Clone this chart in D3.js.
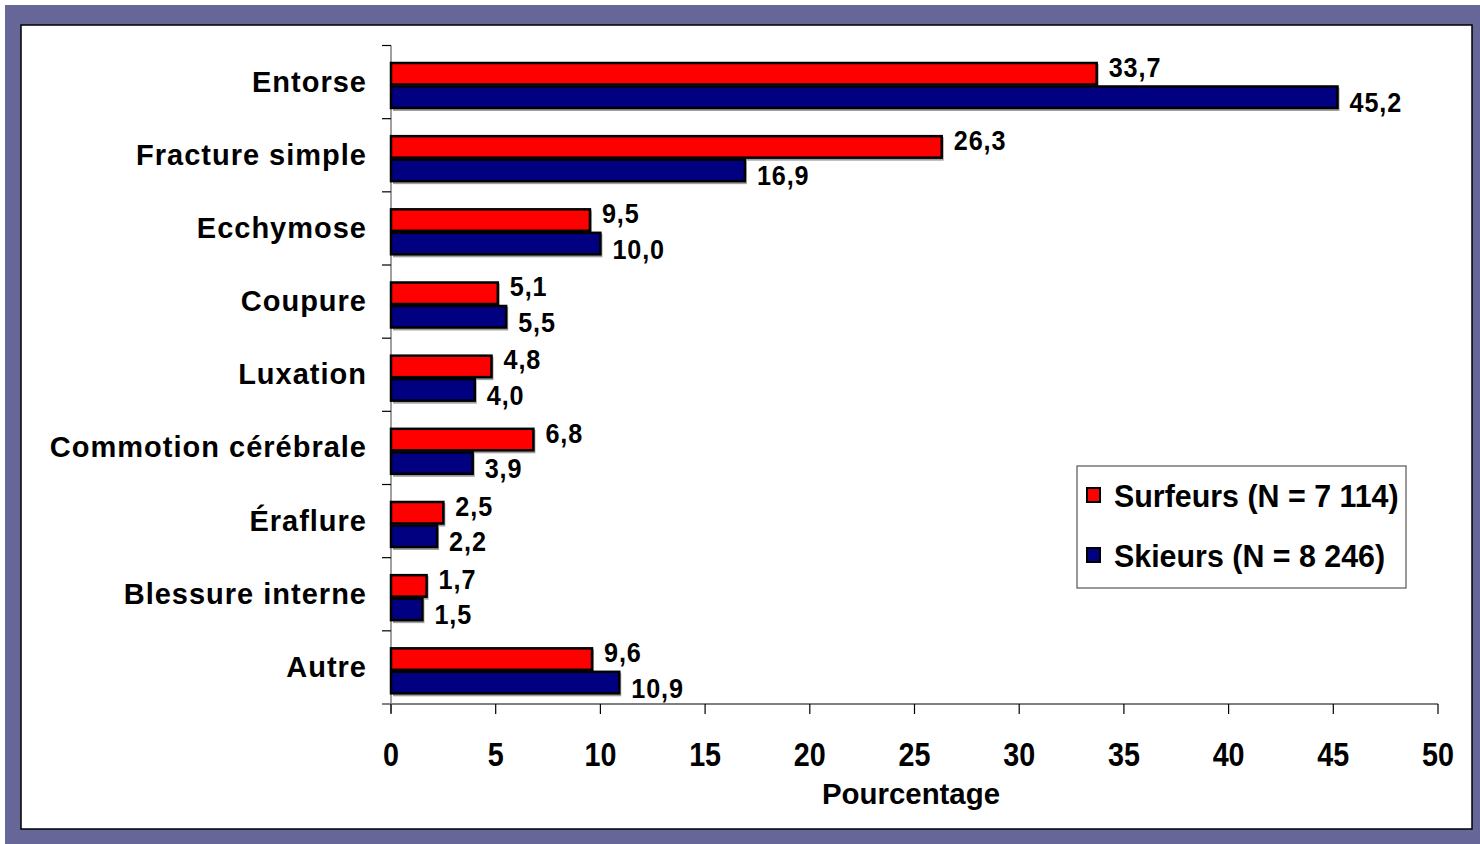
<!DOCTYPE html>
<html><head><meta charset="utf-8">
<script src="https://cdn.jsdelivr.net/npm/d3@7"></script>
<style>body{margin:0;background:#fff}svg{display:block}text{font-family:Arial,"Liberation Sans",Helvetica,sans-serif;font-weight:bold;fill:#000}</style>
</head><body>
<script>
const categories = ["Entorse","Fracture simple","Ecchymose","Coupure","Luxation","Commotion cérébrale","Éraflure","Blessure interne","Autre"];
const surfeurs = [33.7,26.3,9.5,5.1,4.8,6.8,2.5,1.7,9.6];
const skieurs  = [45.2,16.9,10.0,5.5,4.0,3.9,2.2,1.5,10.9];
const seriesNames = ["Surfeurs (N = 7 114)","Skieurs (N = 8 246)"];
const seriesColors = ["#FF0000","#000080"];
const xTicks = [0,5,10,15,20,25,30,35,40,45,50];
const xTitle = "Pourcentage";

const W=1480,H=844;
const svg=d3.select("body").append("svg").attr("width",W).attr("height",H);
// frame
svg.append("rect").attr("x",5).attr("y",5).attr("width",W-5).attr("height",H-5).attr("fill","#666699");
svg.append("rect").attr("x",21).attr("y",25).attr("width",1451).attr("height",804).attr("fill","#fff").attr("stroke","#000").attr("stroke-width",1.5);

const x=d3.scaleLinear().domain([0,50]).range([391,1438]);
const y=d3.scaleBand().domain(categories).range([45.5,704]).padding(0);
const inner=d3.scaleBand().domain([0,1]).range([0,y.bandwidth()]).paddingInner(0).paddingOuter(0.557).align(0.63);
const fmt=v=>d3.format(".1f")(v).replace(".",",");

function txt(g,px,py,s,size,sx,anchor){
  return g.append("text").attr("transform",`translate(${px},${py}) scale(${sx},1)`)
    .attr("text-anchor",anchor).attr("dy","0.36em").style("font-size",size+"px").text(s);
}

// y axis
const yBounds=categories.map(c=>y(c)).concat([y.range()[1]]);
svg.append("line").attr("x1",x(0)).attr("x2",x(0)).attr("y1",y.range()[0]).attr("y2",y.range()[1]+9).attr("stroke","#808080").attr("stroke-width",1.5);
svg.selectAll(".yt").data(yBounds).join("line").attr("x1",x(0)-9).attr("x2",x(0)).attr("y1",d=>d).attr("y2",d=>d).attr("stroke","#000").attr("stroke-width",1.2);

// bars
const data=[surfeurs,skieurs];
const g=svg.append("g");
data.forEach((vals,si)=>{
  g.selectAll(".sh"+si).data(categories).join("rect")
    .attr("x",x(0)+2).attr("y",(c)=>y(c)+inner(si)+2)
    .attr("width",(c,i)=>x(vals[i])-x(0)).attr("height",inner.bandwidth())
    .attr("fill","#a0a0a0");
});
data.forEach((vals,si)=>{
  g.selectAll(".b"+si).data(categories).join("rect")
    .attr("x",x(0)).attr("y",(c)=>y(c)+inner(si)+1)
    .attr("width",(c,i)=>x(vals[i])-x(0)).attr("height",inner.bandwidth()-2)
    .attr("fill",seriesColors[si]).attr("stroke","#000").attr("stroke-width",2.5);
});
// value labels
data.forEach((vals,si)=>{
  categories.forEach((c,i)=>{
    const cy=y(c)+inner(si)+inner.bandwidth()/2+(si===0?-7:5);
    txt(svg,x(vals[i])+12,cy,fmt(vals[i]),28,0.9,"start").style("letter-spacing","1px");
  });
});

// x axis
svg.append("line").attr("x1",x(0)-9).attr("x2",x(50)).attr("y1",704).attr("y2",704).attr("stroke","#808080").attr("stroke-width",2);
svg.selectAll(".xt").data(xTicks).join("line").attr("x1",d=>x(d)).attr("x2",d=>x(d)).attr("y1",704).attr("y2",714).attr("stroke","#000").attr("stroke-width",1.2);
xTicks.forEach(t=>txt(svg,x(t),754,String(t),33,0.87,"middle"));
txt(svg,911,793,xTitle,30,0.98,"middle");

// category labels
categories.forEach(c=>txt(svg,367,y(c)+y.bandwidth()/2-1,c,29,1,"end").style("letter-spacing","1px"));

// legend
const lg=svg.append("g");
lg.append("rect").attr("x",1077).attr("y",466).attr("width",329).attr("height",122).attr("fill","#fff").attr("stroke","#555").attr("stroke-width",1.2);
seriesNames.forEach((n,i)=>{
  const cy=[495,555][i];
  lg.append("rect").attr("x",1087).attr("y",cy-7).attr("width",13).attr("height",14).attr("fill",seriesColors[i]).attr("stroke","#000").attr("stroke-width",2);
  txt(lg,1114,cy,n,32,0.95,"start");
});
</script>
</body></html>
